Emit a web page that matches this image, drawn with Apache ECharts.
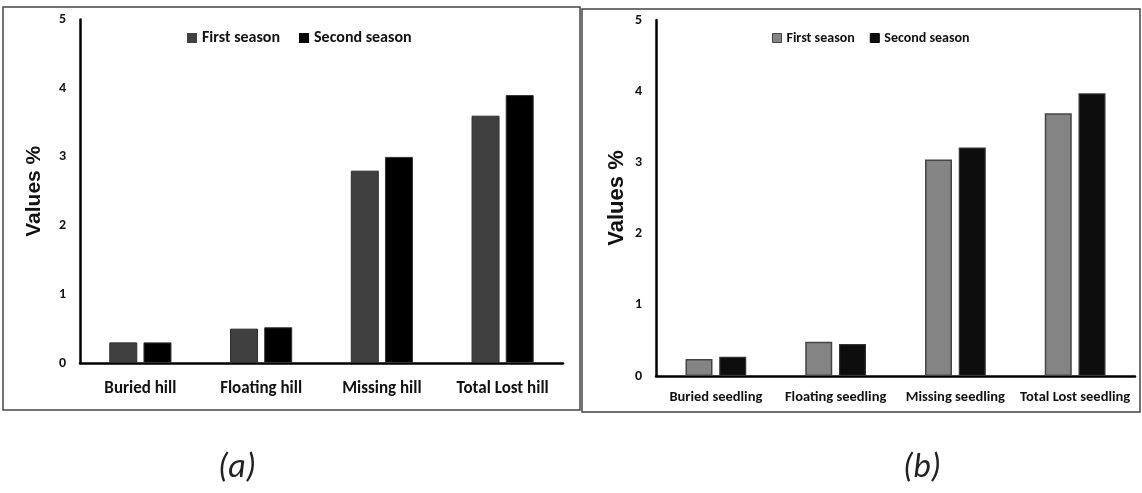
<!DOCTYPE html>
<html>
<head>
<meta charset="utf-8">
<script src="https://cdn.jsdelivr.net/npm/echarts@6/dist/echarts.min.js"></script>
<style>html,body{margin:0;padding:0;background:#fff}#c{width:1142px;height:493px}</style>
</head>
<body>
<div id="c"></div>
<script>
const categoriesA = ['Buried hill', 'Floating hill', 'Missing hill', 'Total Lost hill'];
const categoriesB = ['Buried seedling', 'Floating seedling', 'Missing seedling', 'Total Lost seedling'];
const seriesNames = ['First season', 'Second season'];
const firstA = [0.3, 0.5, 2.8, 3.6];
const secondA = [0.3, 0.52, 3.0, 3.9];
const firstB = [0.24, 0.48, 3.04, 3.69];
const secondB = [0.27, 0.45, 3.21, 3.97];
const yMin = 0, yMax = 5, yStep = 1;
const yName = 'Values %';
const captions = ['(a)', '(b)'];

const CAL = "Carlito, 'Liberation Sans', sans-serif";
const chart = echarts.init(document.getElementById('c'), null, {renderer: 'canvas'});

function yAxis(gi, nameGap, nameSize) {
  return {
    type: 'value', gridIndex: gi, min: yMin, max: yMax, interval: yStep,
    name: yName, nameLocation: 'middle', nameGap: nameGap, nameRotate: 90,
    nameTextStyle: {fontFamily: "'Liberation Sans', Arial, sans-serif", fontWeight: 'bold', fontSize: nameSize, color: '#111'},
    axisLine: {show: true, lineStyle: {color: '#000', width: 2.5}},
    axisTick: {show: false},
    splitLine: {show: false},
    axisLabel: {margin: 14, color: '#111', fontWeight: 'bold', fontSize: 14, fontFamily: CAL}
  };
}
function xAxis(gi, cats, size, margin) {
  return {
    type: 'category', gridIndex: gi, data: cats,
    axisLine: {show: true, lineStyle: {color: '#000', width: 2.5}},
    axisTick: {show: false},
    axisLabel: {margin: margin, color: '#111', fontWeight: 'bold', fontSize: size, fontFamily: CAL, interval: 0}
  };
}

chart.setOption({
  animation: false,
  backgroundColor: '#fff',
  grid: [
    {left: 80, top: 19.5, width: 483, height: 343.5},
    {left: 656, top: 20, width: 479, height: 356}
  ],
  xAxis: [xAxis(0, categoriesA, 17, 17), xAxis(1, categoriesB, 14.5, 14)],
  yAxis: [yAxis(0, 35, 21), yAxis(1, 28, 22)],
  legend: [
    {
      left: 187, top: 30, padding: 0, itemWidth: 10, itemHeight: 10, itemGap: 19, icon: 'rect',
      textStyle: {fontFamily: CAL, fontWeight: 'bold', fontSize: 16, color: '#111'},
      data: [
        {name: seriesNames[0], itemStyle: {color: '#404040', borderWidth: 0}},
        {name: seriesNames[1], itemStyle: {color: '#000', borderWidth: 0}}
      ],
      selectedMode: false
    },
    {
      left: 772, top: 31, padding: 0, itemWidth: 9, itemHeight: 9, itemGap: 15, icon: 'rect',
      textStyle: {fontFamily: CAL, fontWeight: 'bold', fontSize: 14, color: '#111'},
      data: [
        {name: seriesNames[0], itemStyle: {color: '#848484', borderColor: '#444', borderWidth: 1}},
        {name: seriesNames[1], itemStyle: {color: '#0d0d0d', borderColor: '#000', borderWidth: 1}}
      ],
      selectedMode: false
    }
  ],
  series: [
    {name: seriesNames[0], type: 'bar', xAxisIndex: 0, yAxisIndex: 0, data: firstA, barWidth: 28, barGap: '22%',
     itemStyle: {color: '#404040', borderColor: '#2e2e2e', borderWidth: 1}},
    {name: seriesNames[1], type: 'bar', xAxisIndex: 0, yAxisIndex: 0, data: secondA, barWidth: 28, barGap: '22%',
     itemStyle: {color: '#000', borderColor: '#333', borderWidth: 1}},
    {name: seriesNames[0], type: 'bar', xAxisIndex: 1, yAxisIndex: 1, data: firstB, barWidth: 27, barGap: '25%',
     itemStyle: {color: '#848484', borderColor: '#444', borderWidth: 1.5}},
    {name: seriesNames[1], type: 'bar', xAxisIndex: 1, yAxisIndex: 1, data: secondB, barWidth: 27, barGap: '25%',
     itemStyle: {color: '#0d0d0d', borderColor: '#333', borderWidth: 1.2}}
  ],
  graphic: [
    {type: 'rect', shape: {x: 3, y: 7, width: 577, height: 403}, style: {fill: 'none', stroke: '#444', lineWidth: 1.5}, silent: true},
    {type: 'rect', shape: {x: 582, y: 9, width: 558, height: 403}, style: {fill: 'none', stroke: '#444', lineWidth: 1.5}, silent: true},
    {type: 'text', x: 237, y: 468, style: {text: captions[0], align: 'center', verticalAlign: 'middle', font: "italic 34px Carlito, 'Open Sans', sans-serif", fill: '#222'}},
    {type: 'text', x: 922, y: 468, style: {text: captions[1], align: 'center', verticalAlign: 'middle', font: "italic 34px Carlito, 'Open Sans', sans-serif", fill: '#222'}}
  ]
});
</script>
</body>
</html>
